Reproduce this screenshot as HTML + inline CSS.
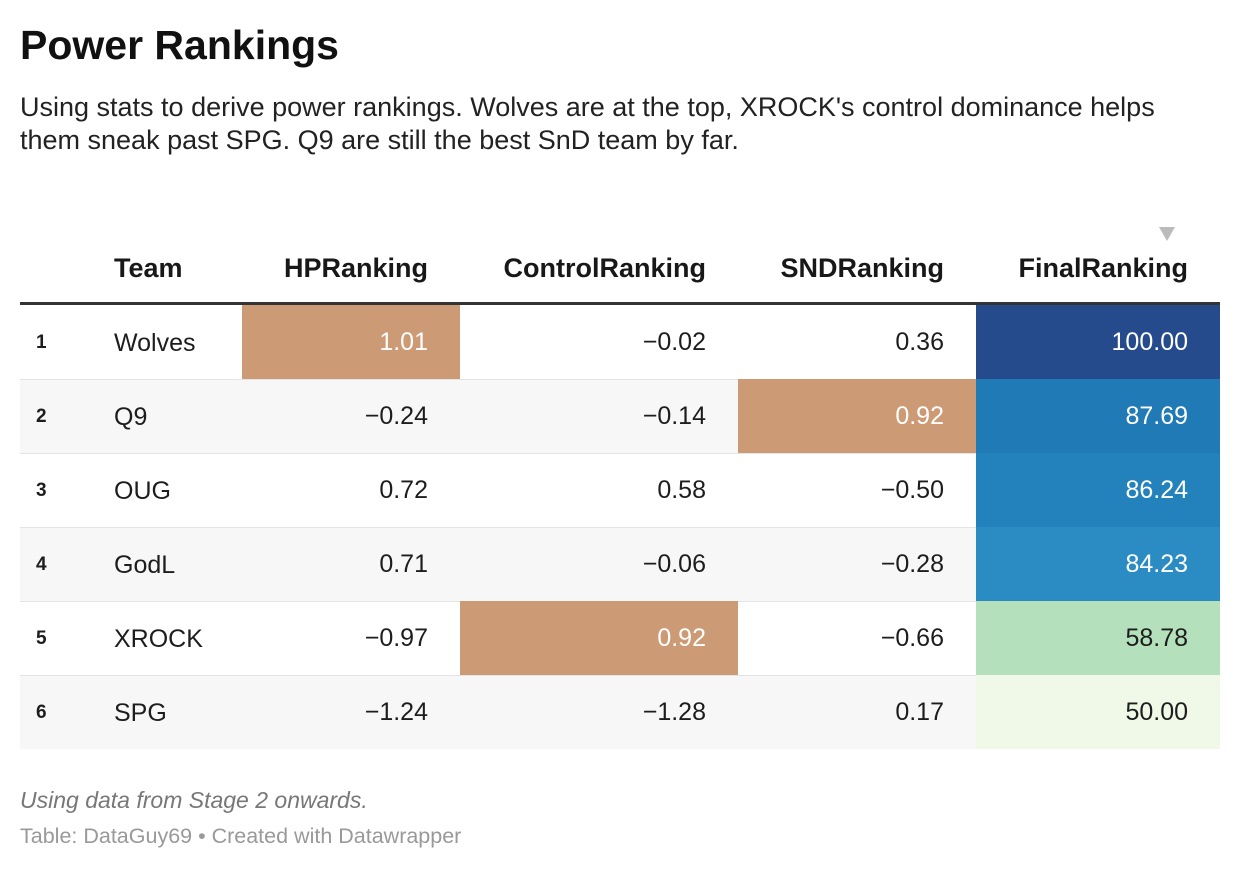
<!DOCTYPE html>
<html><head><meta charset="utf-8">
<style>
body{margin:0;width:1240px;height:872px;background:#fff;font-family:"Liberation Sans",sans-serif;color:#1d1d1d;position:relative;overflow:hidden}
.abs{position:absolute}
#title{left:20px;top:22px;font-size:41px;font-weight:bold;color:#111}
#sub{left:20px;top:91px;width:1200px;font-size:27px;line-height:33px;color:#222}
.hd{top:253px;font-size:27px;font-weight:bold;color:#181818;white-space:nowrap}
.cell{position:absolute;height:74px;line-height:74px;font-size:25px;white-space:nowrap;box-sizing:border-box}
.num{text-align:right;padding-right:32px}
#foot1{left:20px;top:787px;font-size:23px;font-style:italic;color:#777}
#foot2{left:20px;top:824px;font-size:21.5px;color:#999}
</style></head><body>
<div id="title" class="abs">Power Rankings</div>
<div id="sub" class="abs">Using stats to derive power rankings. Wolves are at the top, XROCK's control dominance helps them sneak past SPG. Q9 are still the best SnD team by far.</div>
<div class="abs hd" style="left:114px">Team</div>
<div class="abs hd" style="left:242px;width:186px;text-align:right">HPRanking</div>
<div class="abs hd" style="left:460px;width:246px;text-align:right">ControlRanking</div>
<div class="abs hd" style="left:738px;width:206px;text-align:right">SNDRanking</div>
<div class="abs hd" style="left:976px;width:212px;text-align:right">FinalRanking</div>
<div class="abs" style="left:1159px;top:227px;width:0;height:0;border-left:8px solid transparent;border-right:8px solid transparent;border-top:14px solid #bbb"></div>
<div class="abs" style="left:20px;top:302px;width:1200px;height:3px;background:#333"></div>
<div id="tbl"></div>
<div id="foot1" class="abs">Using data from Stage 2 onwards.</div>
<div id="foot2" class="abs">Table: DataGuy69 • Created with Datawrapper</div>
<script>
const teams=["Wolves","Q9","OUG","GodL","XROCK","SPG"];
const hp=[1.01,-0.24,0.72,0.71,-0.97,-1.24];
const ctrl=[-0.02,-0.14,0.58,-0.06,0.92,-1.28];
const snd=[0.36,0.92,-0.50,-0.28,-0.66,0.17];
const finalR=[100.00,87.69,86.24,84.23,58.78,50.00];
const finalColors=["#264b8d","#1f7ab6","#2381bb","#2a8cc2","#b4e1bc","#f0f8e8"];
const tbl=document.getElementById('tbl');
function fmt(v){return (v<0?"\u2212":"")+Math.abs(v).toFixed(2);}
function mk(x,y,w,txt,cls,bg,col,name){
  const d=document.createElement('div');
  d.className='cell '+cls;
  d.style.left=x+'px';d.style.top=y+'px';d.style.width=w+'px';
  if(bg)d.style.background=bg;
  if(col)d.style.color=col;
  d.textContent=txt;
  
  
  tbl.appendChild(d);
  return d;
}
const cols=[[hp,242,218,'hp'],[ctrl,460,278,'control'],[snd,738,238,'snd']];
teams.forEach((t,i)=>{
  const y=305+i*74;
  const r=document.createElement('div');
  r.className='abs';
  r.style.cssText=`left:20px;top:${y}px;width:1200px;height:74px;background:${i%2?'#f7f7f7':'#fff'};border-top:${i?'1px solid #e4e4e4':'none'};box-sizing:border-box`;
  
  
  tbl.appendChild(r);
  const rk=mk(36,y+1,40,String(i+1),'',null,null,'rank-'+(i+1));
  rk.style.fontSize='19px';rk.style.fontWeight='bold';
  mk(114,y+1,120,t,'',null,null,'team-'+t.toLowerCase());
  cols.forEach(([arr,x,w,n])=>{
    const mx=Math.max(...arr);
    const hi=arr[i]===mx;
    mk(x,y,w,fmt(arr[i]),'num',hi?'#cc9b75':null,hi?'#fff':null,n+'-'+t.toLowerCase());
  });
  mk(976,y,244,finalR[i].toFixed(2),'num',finalColors[i],i<4?'#fff':'#1d1d1d','final-'+t.toLowerCase());
});
</script>
</body></html>
